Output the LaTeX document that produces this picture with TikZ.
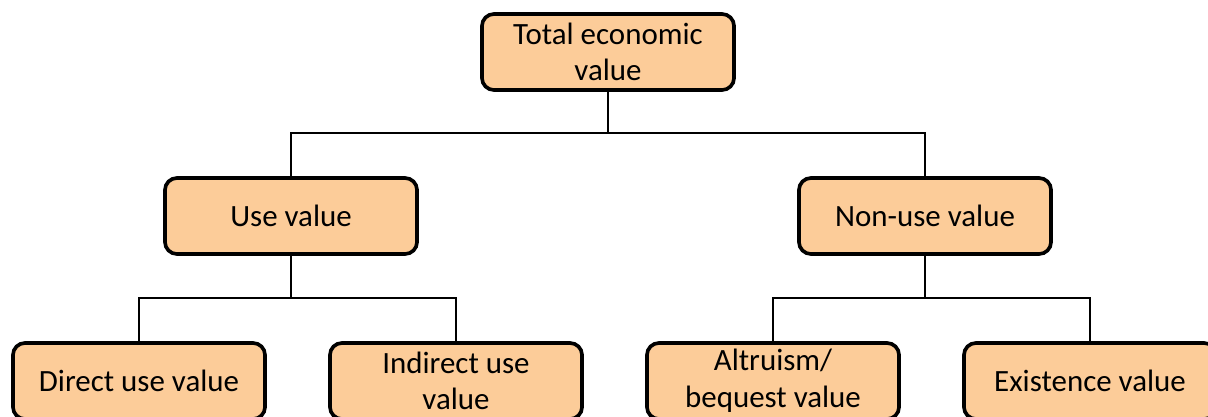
\documentclass[tikz,border=0pt]{standalone}
\usepackage{fontspec}
\setmainfont{Carlito}
\usetikzlibrary{positioning}
\definecolor{peach}{RGB}{252,204,153}
\tikzset{
  valuebox/.style={rectangle, rounded corners=0.3cm, minimum width=6.3cm, minimum height=1.9cm, align=center, draw=black, line width=2.6pt, fill=peach, font=\fontsize{22}{26}\selectfont},
  link/.style={line width=1pt}
}
\begin{document}
\begin{tikzpicture}[x=0.025cm, y=-0.025cm]
        \useasboundingbox (0,0) rectangle (1208,416);
        \clip (0,0) rectangle (1208,416);
        \node (total) [valuebox] at (608,52) {Total economic\\ value};
        \node (use) [valuebox] at (291,216) {Use value};
        \node (nonuse) [valuebox] at (925,216) {Non-use value};
        \node (direct) [valuebox] at (139,381) {Direct use value};
        \node (indirect) [valuebox] at (456,381) {Indirect use\\ value};
        \node (altruism) [valuebox] at (773,381) {Altruism/\\ bequest value};
        \node (existence) [valuebox] at (1090,381) {Existence value};

        \coordinate (busTop) at (608,133);
        \coordinate (busUse) at (291,298);
        \coordinate (busNon) at (925,298);

        \draw [link] (total) -- (busTop);
        \draw [link] (busTop) -| (use);
        \draw [link] (busTop) -| (nonuse);
        \draw [link] (use) -- (busUse);
        \draw [link] (busUse) -| (direct);
        \draw [link] (busUse) -| (indirect);
        \draw [link] (nonuse) -- (busNon);
        \draw [link] (busNon) -| (altruism);
        \draw [link] (busNon) -| (existence);
    \end{tikzpicture}
\end{document}
